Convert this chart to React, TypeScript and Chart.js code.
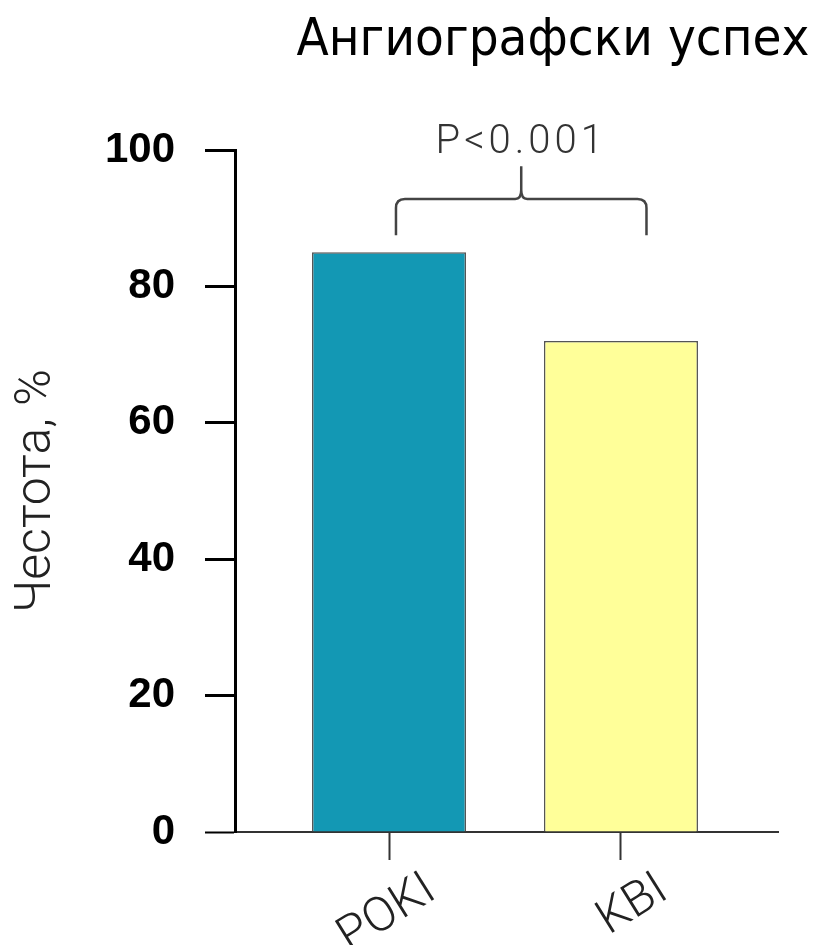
import React, { useEffect, useRef } from 'react';
import { Chart, registerables } from 'chart.js';

Chart.register(...registerables);

const categories = ['POKI', 'KBI'];
const values = [85, 72];
const yTicks = [0, 20, 40, 60, 80, 100];
const titleText = 'Ангиографски успех';
const yTitleText = 'Честота, %';
const pText = 'P<0.001';
const barColors = ['#1398B4', '#FFFF99'];
// bracket, in data units
const bracketX = [0.03, 1.11];
const bracketY = [87.5, 92.8, 97.6];
const pTextY = 99.6;

const annotationPlugin = {
  id: 'annot',
  afterDraw(chart: any) {
    const { ctx, scales } = chart;
    const x = scales.x;
    const y = scales.y;
    // title
    ctx.save();
    ctx.font = '51px "DejaVu Sans"';
    ctx.fillStyle = '#000';
    ctx.textBaseline = 'alphabetic';
    ctx.textAlign = 'center';
    const w = ctx.measureText(titleText).width;
    const sx = Math.min(1, 513 / w);
    ctx.translate(553, 55);
    ctx.scale(sx, 1);
    ctx.fillText(titleText, 0, 0);
    ctx.restore();

    // bracket
    const x0 = x.getPixelForValue(bracketX[0]);
    const x1 = x.getPixelForValue(bracketX[1]);
    const xm = (x0 + x1) / 2;
    const yb = y.getPixelForValue(bracketY[0]);
    const yh = y.getPixelForValue(bracketY[1]);
    const yc = y.getPixelForValue(bracketY[2]);
    const r = 9;
    ctx.save();
    ctx.strokeStyle = '#444';
    ctx.lineWidth = 2.5;
    ctx.beginPath();
    ctx.moveTo(x0, yb);
    ctx.lineTo(x0, yh + r);
    ctx.quadraticCurveTo(x0, yh, x0 + r, yh);
    ctx.lineTo(xm - 6, yh);
    ctx.quadraticCurveTo(xm, yh, xm, yh - 9);
    ctx.lineTo(xm, yc);
    ctx.moveTo(xm, yh - 9);
    ctx.quadraticCurveTo(xm, yh, xm + 6, yh);
    ctx.lineTo(x1 - r, yh);
    ctx.quadraticCurveTo(x1, yh, x1, yh + r);
    ctx.lineTo(x1, yb);
    ctx.stroke();

    ctx.font = '300 40px Roboto';
    ctx.fillStyle = '#333';
    ctx.textAlign = 'center';
    ctx.textBaseline = 'alphabetic';
    (ctx as any).letterSpacing = '4px';
    ctx.fillText(pText, xm, y.getPixelForValue(pTextY));
    ctx.restore();
  },
};

export default function App() {
  const ref = useRef<HTMLCanvasElement | null>(null);
  useEffect(() => {
    document.body.style.margin = '0';
    const canvas = ref.current;
    if (!canvas) return;
    const chart = new Chart(canvas, {
      type: 'bar',
      data: {
        datasets: [
          {
            data: values.map((v, i) => ({ x: i, y: v })),
            backgroundColor: barColors,
            borderColor: '#555',
            borderWidth: 1.5,
            barPercentage: 0.664,
            categoryPercentage: 1,
          },
        ],
      },
      options: {
        animation: false,
        responsive: true,
        maintainAspectRatio: false,
        layout: { padding: { top: 150, right: 39, bottom: 0, left: 0 } },
        plugins: { legend: { display: false }, tooltip: { enabled: false }, title: { display: false } },
        scales: {
          x: {
            type: 'linear',
            offset: false,
            min: -0.664,
            max: 1.677,
            afterBuildTicks: (s: any) => {
              s.ticks = categories.map((_, i) => ({ value: i }));
            },
            afterFit: (s: any) => {
              s.height = 113;
            },
            border: { display: true, color: '#333', width: 2 },
            grid: { offset: false, drawOnChartArea: false, drawTicks: true, tickLength: 28, tickWidth: 2, tickColor: '#333' },
            ticks: {
              minRotation: 32,
              maxRotation: 32,
              labelOffset: 43,
              padding: 2,
              color: '#222',
              font: { family: 'Roboto', weight: 300 as any, size: 48 },
              callback: (v: any) => categories[v] ?? '',
            },
          },
          y: {
            min: 0,
            max: 100,
            afterBuildTicks: (s: any) => {
              s.ticks = yTicks.map((v) => ({ value: v }));
            },
            afterFit: (s: any) => {
              s.width = 235;
            },
            border: { display: true, color: '#000', width: 3 },
            grid: {
              drawOnChartArea: false,
              drawTicks: true,
              tickLength: 30,
              tickWidth: (c: any) => (c.tick && c.tick.value === 0 ? 2 : 3),
              tickColor: '#000',
            },
            ticks: {
              padding: 30,
              color: '#000',
              font: { family: '"Liberation Sans", Arial, sans-serif', weight: 'bold', size: 42 },
            },
            title: {
              display: true,
              text: yTitleText,
              color: '#222',
              font: { family: 'Roboto', weight: 300 as any, size: 50 },
              padding: { top: 7, bottom: 0 },
            },
          },
        },
      },
      plugins: [annotationPlugin],
    });
    return () => chart.destroy();
  }, []);
  return (
    <div style={{ width: 817, height: 945, position: 'relative' }}>
      <canvas ref={ref} />
    </div>
  );
}
